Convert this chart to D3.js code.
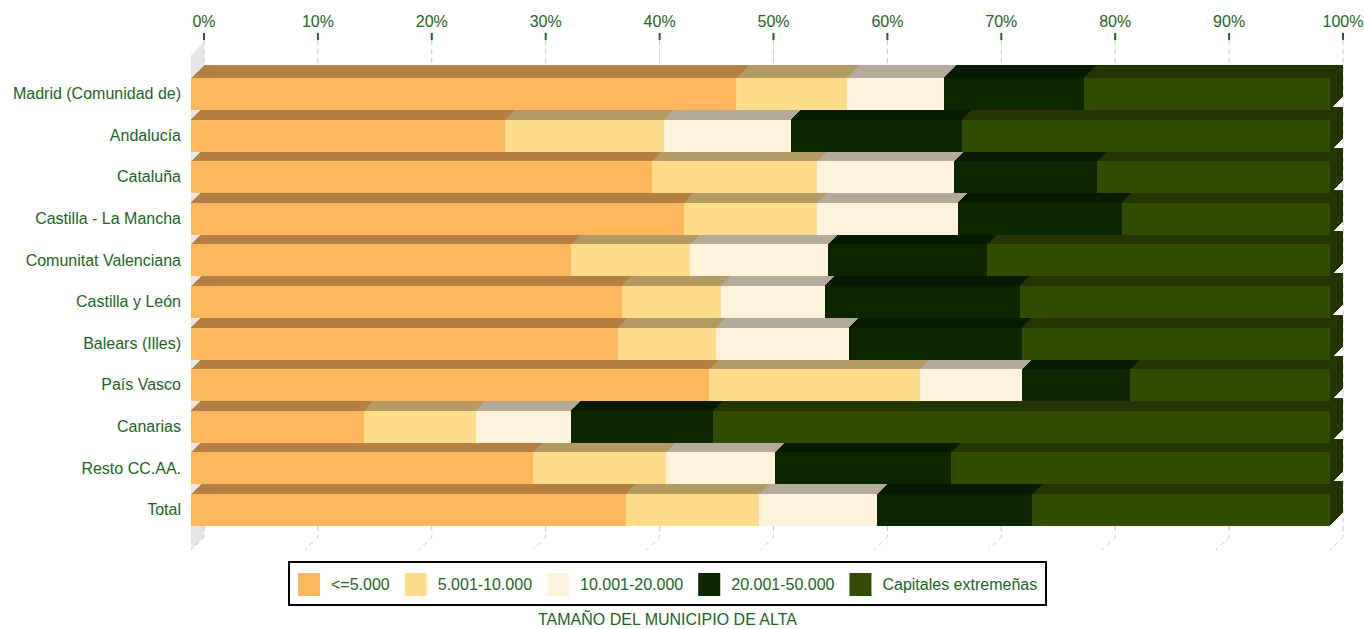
<!DOCTYPE html>
<html>
<head>
<meta charset="utf-8">
<script src="https://cdn.jsdelivr.net/npm/d3@7"></script>
<style>
  html, body { margin: 0; padding: 0; background: #ffffff; }
  svg { display: block; font-family: "Liberation Sans", Arial, sans-serif; }
</style>
</head>
<body>
<svg id="chart" width="1364" height="629"></svg>
<script>
// ---- data ----
const categories = ["Madrid (Comunidad de)", "Andalucía", "Cataluña", "Castilla - La Mancha",
  "Comunitat Valenciana", "Castilla y León", "Balears (Illes)", "País Vasco", "Canarias",
  "Resto CC.AA.", "Total"];
const seriesNames = ["<=5.000", "5.001-10.000", "10.001-20.000", "20.001-50.000", "Capitales extremeñas"];
const s1 = [47.85, 27.57, 40.47, 43.28, 33.36, 37.84, 37.49, 45.48, 15.19, 30.03, 38.19];
const s2 = [9.74, 13.96, 14.49, 11.68, 10.45, 8.69, 8.58, 18.52, 9.83, 11.67, 11.68];
const s3 = [8.52, 11.17, 12.03, 12.38, 12.12, 9.11, 11.67, 8.96, 8.34, 9.57, 10.36];
const s4 = [12.29, 14.99, 12.55, 14.40, 13.96, 17.14, 15.22, 9.48, 12.47, 15.46, 13.61];
const s5 = [21.60, 32.31, 20.46, 18.26, 30.11, 27.22, 27.04, 17.56, 54.17, 33.27, 26.16];
const tickValues = [0, 10, 20, 30, 40, 50, 60, 70, 80, 90, 100];
const tickLabels = ["0%", "10%", "20%", "30%", "40%", "50%", "60%", "70%", "80%", "90%", "100%"];
const colors = ["#FFB75E", "#FFDC8C", "#FFF3DC", "#0C2600", "#334D00"];
const axisTitle = "TAMAÑO DEL MUNICIPIO DE ALTA";

// ---- layout ----
const textColor = "#1b651b";
const DX = 13, DY = 13;
const backTop = 42, frontBottom = 550;
const svg = d3.select("#chart");

const rows = categories.map((c, i) => {
  const r = { cat: c };
  seriesNames.forEach((s, k) => r[s] = [s1, s2, s3, s4, s5][k][i]);
  return r;
});
const stacked = d3.stack().keys(seriesNames)(rows);

const x = d3.scaleLinear().domain([0, 100]).range([191, 1330]);
const y = d3.scaleBand().domain(categories).range([73.2, 530.8])
  .paddingInner(0.2308).paddingOuter(0.1154);
const color = d3.scaleOrdinal().domain(seriesNames).range(colors);
const darker = c => { const d = d3.rgb(c); return d3.rgb(d.r * 0.7, d.g * 0.7, d.b * 0.7).toString(); };

// left wall
svg.append("polygon")
  .attr("points", [[x(0) + DX, backTop], [x(0) + DX, frontBottom - DY], [x(0), frontBottom], [x(0), backTop + DY]].join(" "))
  .attr("fill", "#e6e6e6");

// gridlines
const grid = svg.append("g");
tickValues.forEach(t => {
  const bx = x(t) + DX;
  grid.append("path")
    .attr("d", `M${bx},40 L${bx},${frontBottom - DY} L${x(t)},${frontBottom}`)
    .attr("fill", "none").attr("stroke", "#c8c8c8").attr("stroke-width", 1)
    .attr("stroke-dasharray", "5,4");
  grid.append("line")
    .attr("x1", bx).attr("x2", bx).attr("y1", 33).attr("y2", 40)
    .attr("stroke", "#1b6a1b").attr("stroke-width", 2);
});

// top axis labels
svg.append("g").selectAll("text").data(tickValues).join("text")
  .attr("x", d => x(d) + DX).attr("y", 27)
  .attr("text-anchor", "middle").attr("font-size", "16px").attr("fill", textColor)
  .text((d, i) => tickLabels[i]);

// bars (drawn bottom row first, segments left to right)
const barsG = svg.append("g").attr("shape-rendering", "crispEdges");
const order = categories.map((c, i) => i).reverse();
order.forEach(i => {
  const cat = categories[i];
  const top = y(cat), bh = y.bandwidth(), bot = top + bh;
  stacked.forEach(layer => {
    const d = layer[i];
    const x0 = x(d[0]), x1 = x(d[1]);
    const c = color(layer.key), dc = darker(c);
    barsG.append("polygon")
      .attr("points", [[x0, top], [x0 + DX, top - DY], [x1 + DX, top - DY], [x1, top]].join(" "))
      .attr("fill", dc);
    barsG.append("polygon")
      .attr("points", [[x1, top], [x1 + DX, top - DY], [x1 + DX, bot - DY], [x1, bot]].join(" "))
      .attr("fill", dc);
    barsG.append("rect")
      .attr("x", x0).attr("y", top).attr("width", Math.max(0, x1 - x0)).attr("height", bh)
      .attr("fill", c);
  });
});

// category labels
svg.append("g").selectAll("text").data(categories).join("text")
  .attr("x", 181).attr("y", d => y(d) + y.bandwidth() / 2 + 1)
  .attr("text-anchor", "end").attr("dominant-baseline", "middle")
  .attr("font-size", "16px").attr("fill", textColor)
  .text(d => d);

// legend
const leg = svg.append("g");
leg.append("rect").attr("x", 289).attr("y", 562).attr("width", 757).attr("height", 43)
  .attr("fill", "#fff").attr("stroke", "#000").attr("stroke-width", 2);
let lx = 298;
seriesNames.forEach(s => {
  leg.append("rect").attr("x", lx).attr("y", 573).attr("width", 22).attr("height", 23).attr("fill", color(s));
  const t = leg.append("text").attr("x", lx + 33).attr("y", 590)
    .attr("font-size", "16px").attr("fill", textColor).text(s);
  lx += 33 + t.node().getComputedTextLength() + 15;
});

// axis title
svg.append("text").attr("x", 667.5).attr("y", 625).attr("text-anchor", "middle")
  .attr("font-size", "16px").attr("fill", textColor).text(axisTitle);
</script>
</body>
</html>
